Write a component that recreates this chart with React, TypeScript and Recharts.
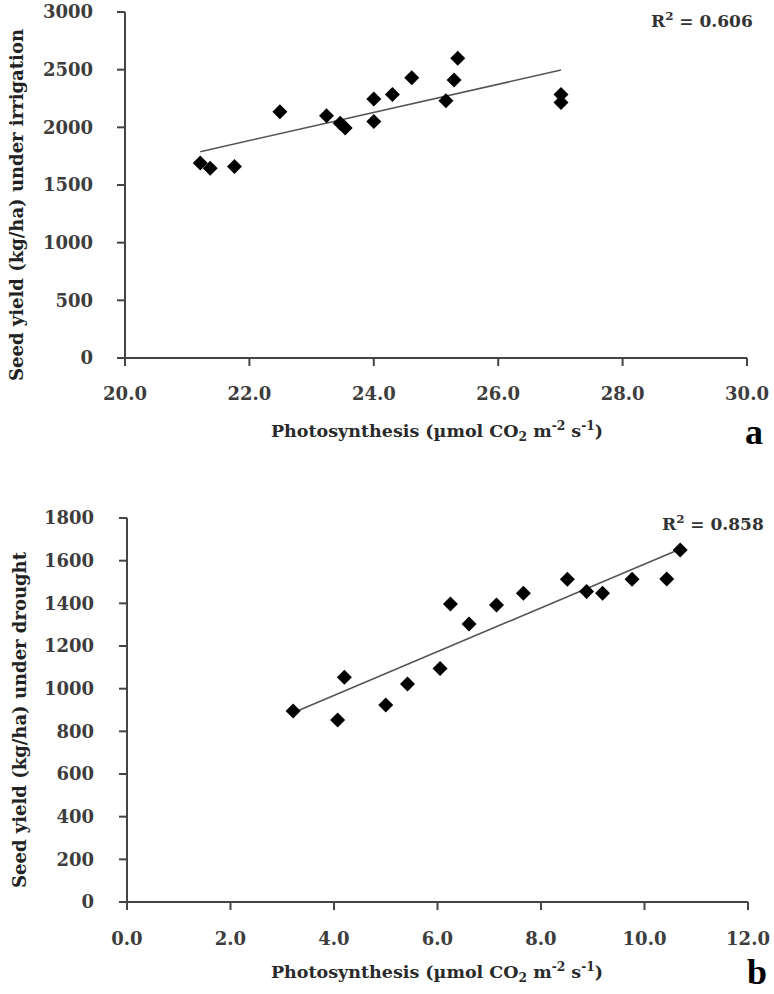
import React from 'react';
import { ScatterChart, Scatter, XAxis, YAxis, ReferenceLine } from 'recharts';

// panel a: irrigation
const irrigationPhoto = [21.21, 21.37, 21.76, 22.49, 23.24, 23.46, 23.54, 24.0, 24.0, 24.3, 24.61, 25.16, 25.29, 25.35, 27.01, 27.01];
const irrigationYield = [1690, 1645, 1660, 2135, 2100, 2035, 1995, 2245, 2050, 2285, 2430, 2230, 2410, 2600, 2285, 2215];
const irrigationTrendX = [21.21, 27.01];
const irrigationTrendY = [1789, 2497];
const irrigationXTicks = [20, 22, 24, 26, 28, 30];
const irrigationYTicks = [0, 500, 1000, 1500, 2000, 2500, 3000];

// panel b: drought
const droughtPhoto = [3.21, 4.07, 4.2, 5.0, 5.42, 6.05, 6.25, 6.61, 7.14, 7.66, 8.51, 8.88, 9.19, 9.76, 10.43, 10.69];
const droughtYield = [895, 853, 1053, 923, 1022, 1095, 1397, 1303, 1392, 1447, 1513, 1455, 1447, 1513, 1514, 1650];
const droughtTrendX = [3.21, 10.69];
const droughtTrendY = [887, 1655];
const droughtXTicks = [0, 2, 4, 6, 8, 10, 12];
const droughtYTicks = [0, 200, 400, 600, 800, 1000, 1200, 1400, 1600, 1800];

const FONT = '"DejaVu Serif", serif';
const axisColor = '#444';
const tickStyle = { fill: '#3d3d3d', fontSize: 18, fontWeight: 'bold', fontFamily: FONT };

function Diamond(props: any) {
  const { cx, cy } = props;
  if (cx == null || cy == null) return null;
  const r = 7.5;
  return <path d={`M${cx},${cy - r}L${cx + r},${cy}L${cx},${cy + r}L${cx - r},${cy}Z`} fill="#000" />;
}

const toPoints = (xs: number[], ys: number[]) => xs.map((x, i) => ({ x, y: ys[i] }));

const xTitle = (
  <>
    Photosynthesis (µmol CO<sub style={{ fontSize: '0.7em' }}>2</sub> m<sup style={{ fontSize: '0.7em' }}>-2</sup> s
    <sup style={{ fontSize: '0.7em' }}>-1</sup>)
  </>
);

const abs = (style: React.CSSProperties): React.CSSProperties => ({
  position: 'absolute',
  whiteSpace: 'nowrap',
  fontFamily: FONT,
  ...style,
});

export default function App() {
  const irrigation = toPoints(irrigationPhoto, irrigationYield);
  const drought = toPoints(droughtPhoto, droughtYield);
  const irrigationTrend = toPoints(irrigationTrendX, irrigationTrendY);
  const droughtTrend = toPoints(droughtTrendX, droughtTrendY);

  return (
    <div style={{ position: 'absolute', left: 0, top: 0, width: 774, height: 994, background: '#fff', overflow: 'hidden' }}>
      {/* a */}
      <div style={{ position: 'absolute', left: 0, top: 0 }}>
        <ScatterChart width={774} height={470} margin={{ top: 12, right: 27, left: 65, bottom: 72 }}>
          <XAxis
            type="number"
            dataKey="x"
            domain={[20, 30]}
            ticks={irrigationXTicks}
            tickFormatter={(v) => v.toFixed(1)}
            tick={tickStyle}
            tickSize={8}
            tickMargin={21}
            height={40}
            stroke={axisColor}
            strokeWidth={2}
          />
          <YAxis
            type="number"
            dataKey="y"
            domain={[0, 3000]}
            ticks={irrigationYTicks}
            tick={tickStyle}
            tickSize={8}
            tickMargin={24}
            width={60}
            stroke={axisColor}
            strokeWidth={2}
          />
          <ReferenceLine
            segment={[irrigationTrend[0], irrigationTrend[1]]}
            stroke="#555"
            strokeWidth={1.6}
          />
          <Scatter data={irrigation} shape={(p: any) => <Diamond {...p} />} isAnimationActive={false} />
        </ScatterChart>
      </div>

      {/* b */}
      <div style={{ position: 'absolute', left: 0, top: 500 }}>
        <ScatterChart width={774} height={494} margin={{ top: 18, right: 26, left: 67, bottom: 52 }}>
          <XAxis
            type="number"
            dataKey="x"
            domain={[0, 12]}
            ticks={droughtXTicks}
            tickFormatter={(v) => v.toFixed(1)}
            tick={tickStyle}
            tickSize={8}
            tickMargin={22}
            height={40}
            stroke={axisColor}
            strokeWidth={2}
          />
          <YAxis
            type="number"
            dataKey="y"
            domain={[0, 1800]}
            ticks={droughtYTicks}
            tick={tickStyle}
            tickSize={8}
            tickMargin={25}
            width={60}
            stroke={axisColor}
            strokeWidth={2}
          />
          <ReferenceLine
            segment={[droughtTrend[0], droughtTrend[1]]}
            stroke="#555"
            strokeWidth={1.6}
          />
          <Scatter data={drought} shape={(p: any) => <Diamond {...p} />} isAnimationActive={false} />
        </ScatterChart>
      </div>

      {/* axis titles and labels */}
      <div
        style={abs({
          left: 16,
          top: 205,
          transform: 'translate(-50%, -50%) rotate(-90deg)',
          fontSize: 18,
          fontWeight: 'bold',
          color: '#222',
        })}
      >
        Seed yield (kg/ha) under irrigation
      </div>
      <div
        style={abs({
          left: 19,
          top: 720,
          transform: 'translate(-50%, -50%) rotate(-90deg)',
          fontSize: 18,
          fontWeight: 'bold',
          color: '#222',
        })}
      >
        Seed yield (kg/ha) under drought
      </div>

      <div style={abs({ left: 437, top: 431, transform: 'translate(-50%, -50%)', fontSize: 17.5, fontWeight: 'bold', color: '#2a2a2a' })}>
        {xTitle}
      </div>
      <div style={abs({ left: 437, top: 972, transform: 'translate(-50%, -50%)', fontSize: 17.5, fontWeight: 'bold', color: '#2a2a2a' })}>
        {xTitle}
      </div>

      <div style={abs({ left: 651, top: 9, fontSize: 17, fontWeight: 'bold', color: '#333' })}>
        R<sup style={{ fontSize: '0.7em' }}>2</sup> = 0.606
      </div>
      <div style={abs({ left: 662, top: 512, fontSize: 17, fontWeight: 'bold', color: '#333' })}>
        R<sup style={{ fontSize: '0.7em' }}>2</sup> = 0.858
      </div>

      <div style={abs({ left: 745, top: 416, fontSize: 36, lineHeight: 0.9, fontWeight: 'bold', fontFamily: '"Liberation Serif", serif', color: '#000' })}>
        a
      </div>
      <div style={abs({ left: 747, top: 956, fontSize: 36, lineHeight: 0.9, fontWeight: 'bold', fontFamily: '"Liberation Serif", serif', color: '#000' })}>
        b
      </div>
    </div>
  );
}
